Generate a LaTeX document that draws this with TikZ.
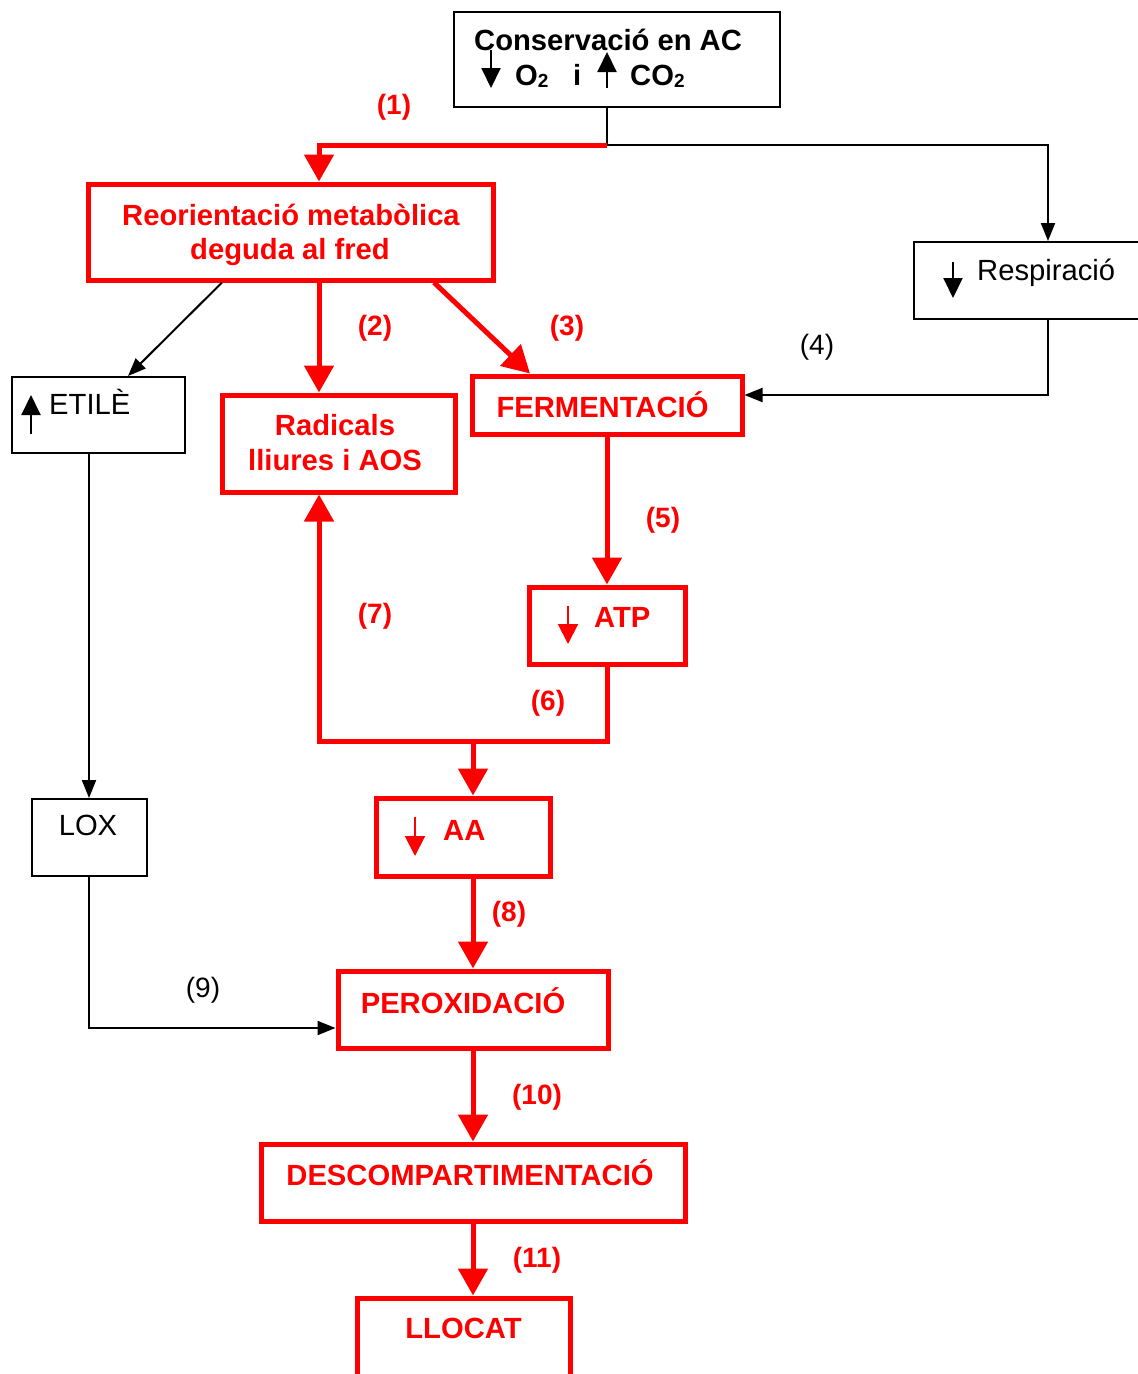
\documentclass[tikz,border=0pt]{standalone}
\usepackage{fontspec}
\setmainfont{Liberation Sans}
\usetikzlibrary{arrows.meta}
\newcommand\subtwo{\raisebox{-2.5pt}{\fontsize{19}{19}\selectfont 2}}
\begin{document}
\begin{tikzpicture}[x=1pt,y=-1pt,
  every node/.style={font=\fontsize{29.2}{34}\selectfont},
  bbox/.style={draw=black, line width=2pt, inner sep=0pt},
  rbox/.style={draw=red, line width=5pt, inner sep=0pt},
  txt/.style={inner sep=0pt, anchor=base},
  btxt/.style={txt, text=black},
  rtxt/.style={txt, text=red, font=\fontsize{29.2}{34}\selectfont\bfseries},
  rlab/.style={inner sep=0pt, text=red, font=\fontsize{28}{34}\selectfont\bfseries},
  blab/.style={inner sep=0pt, text=black, font=\fontsize{28}{34}\selectfont},
  bline/.style={draw=black, line width=2pt},
  barr/.style={draw=black, line width=2pt, -{Triangle[width=14pt,length=18pt]}},
  rarr/.style={draw=red, line width=5pt, -{Triangle[width=29pt,length=27pt]}},
  sarr/.style={draw=black, line width=2pt, -{Triangle[width=19pt,length=20pt]}},
  rsarr/.style={draw=red, line width=2pt, -{Triangle[width=20pt,length=20pt]}},
]
\clip (0,0) rectangle (1138,1374);
\fill[white] (0,0) rectangle (1138,1374);

% boxes
\node[bbox, minimum width=326pt, minimum height=95pt] (cons) at (617,59.5) {};
\node[rbox, minimum width=405pt, minimum height=96pt] (reo) at (290.5,232) {};
\node[bbox, minimum width=240pt, minimum height=77pt] (resp) at (1034,280.5) {};
\node[bbox, minimum width=173pt, minimum height=76pt] (eti) at (98.5,415) {};
\node[rbox, minimum width=233pt, minimum height=97pt] (rad) at (338.5,443.5) {};
\node[rbox, minimum width=270pt, minimum height=58pt] (fer) at (607,405) {};
\node[rbox, minimum width=156pt, minimum height=77pt] (atp) at (607,625.5) {};
\node[rbox, minimum width=174pt, minimum height=78pt] (aa) at (463,837) {};
\node[bbox, minimum width=115pt, minimum height=77pt] (lox) at (89,837.5) {};
\node[rbox, minimum width=270pt, minimum height=77pt] (per) at (473,1009.5) {};
\node[rbox, minimum width=424pt, minimum height=77pt] (desc) at (473,1182.5) {};
\node[rbox, minimum width=213pt, minimum height=90pt] (llo) at (463.5,1343) {};

% box texts
\node[btxt, anchor=base west, font=\fontsize{29.2}{34}\selectfont\bfseries] (t1) at (474,50) {Conservació en AC};
\node[btxt, anchor=base west, font=\fontsize{29.2}{34}\selectfont\bfseries] (t2) at (515,85) {O\subtwo};
\node[btxt, anchor=base west, font=\fontsize{29.2}{34}\selectfont\bfseries] (t3) at (573,85) {i};
\node[btxt, anchor=base west, font=\fontsize{29.2}{34}\selectfont\bfseries] (t4) at (630,85) {CO\subtwo};
\draw[sarr] (491,50) -- (491,88);
\draw[sarr] (607,88) -- (607,52);

\node[rtxt] (r1) at (291,225) {Reorientació metabòlica};
\node[rtxt] (r2) at (290,259) {deguda al fred};

\draw[sarr] (953,262) -- (953,298);
\node[btxt, anchor=base west] (rs) at (977,280) {Respiració};

\draw[sarr] (31,434) -- (31,395);
\node[btxt, anchor=base west] (et) at (49,414) {ETILÈ};

\node[rtxt] (ra1) at (335,435) {Radicals};
\node[rtxt] (ra2) at (335,470) {lliures i AOS};

\node[rtxt] (fe) at (602.5,417) {FERMENTACIÓ};

\draw[rsarr] (568,606) -- (568,644);
\node[rtxt, anchor=base west] (at) at (594,627) {ATP};

\draw[rsarr] (415,817) -- (415,856);
\node[rtxt, anchor=base west] (aat) at (443,840) {AA};

\node[btxt] (lo) at (88,835) {LOX};
\node[rtxt] (pe) at (463,1013) {PEROXIDACIÓ};
\node[rtxt] (de) at (470,1185) {DESCOMPARTIMENTACIÓ};
\node[rtxt] (ll) at (463.5,1338) {LLOCAT};

% connectors
\coordinate (j1) at (607,145);
\coordinate (j2) at (473,741);
\draw[bline] ([xshift=-10pt]cons.south) -- (j1);
\draw[barr] (j1) -| ([xshift=14pt]resp.north);
\draw[rarr] (j1) -| ([xshift=28.5pt]reo.north);
\draw[barr] ([xshift=-68.5pt]reo.south) -- ([xshift=29.5pt]eti.north);
\draw[rarr] ([xshift=28.5pt]reo.south) -- ([xshift=-19.5pt]rad.north);
\draw[rarr] ([xshift=143.5pt]reo.south) -- ([xshift=-77pt]fer.north);
\draw[barr] ([xshift=14pt]resp.south) |- ([yshift=10pt]fer.east);
\draw[rarr] (fer.south) -- (atp.north);
\draw[rarr] (atp.south) |- (j2) -| ([xshift=-19.5pt]rad.south);
\draw[rarr] (j2) -- ([xshift=10pt]aa.north);
\draw[barr] (eti.south -| lox.north) -- (lox.north);
\draw[rarr] ([xshift=10pt]aa.south) -- (per.north);
\draw[barr] (lox.south) |- ([yshift=-18.5pt]per.west);
\draw[rarr] (per.south) -- (desc.north);
\draw[rarr] (desc.south) -- ([xshift=9.5pt]llo.north);

% labels
\node[rlab] (l1) at (394,107) {(1)};
\node[rlab] (l2) at (375,328) {(2)};
\node[rlab] (l3) at (567,328) {(3)};
\node[blab] (l4) at (817,347) {(4)};
\node[rlab] (l5) at (663,520) {(5)};
\node[rlab] (l6) at (548,703) {(6)};
\node[rlab] (l7) at (375,616) {(7)};
\node[rlab] (l8) at (509,914) {(8)};
\node[blab] (l9) at (203,990) {(9)};
\node[rlab] (l10) at (537,1097) {(10)};
\node[rlab] (l11) at (537,1260) {(11)};
\end{tikzpicture}
\end{document}
